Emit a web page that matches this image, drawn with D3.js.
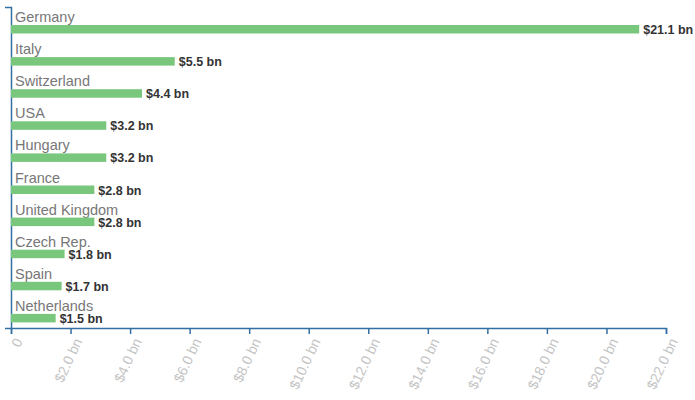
<!DOCTYPE html>
<html>
<head>
<meta charset="utf-8">
<script src="https://cdn.jsdelivr.net/npm/d3@7"></script>
<style>
  body { margin: 0; background: #fff; }
  svg { font-family: "Liberation Sans", Arial, sans-serif; }
</style>
</head>
<body>
<svg width="695" height="400"></svg>
<script>
const countries = ["Germany", "Italy", "Switzerland", "USA", "Hungary", "France",
  "United Kingdom", "Czech Rep.", "Spain", "Netherlands"];
const values = [21.1, 5.5, 4.4, 3.2, 3.2, 2.8, 2.8, 1.8, 1.7, 1.5];
const ticks = [0, 2, 4, 6, 8, 10, 12, 14, 16, 18, 20, 22];

const margin = {top: 7, right: 29, bottom: 72, left: 11};
const width = 695 - margin.left - margin.right,
    height = 400 - margin.top - margin.bottom;

const svg = d3.select("svg");
const g = svg.append("g").attr("transform", `translate(${margin.left},${margin.top})`);

let x = d3.scaleLinear().domain([0, 22]).range([0, width]);
let y = d3.scaleBand().domain(countries).range([0, height]);

const fmt = d => d === 0 ? "0" : "$" + d.toFixed(1) + " bn";

// x axis
let xAxis = g.append("g")
    .attr("transform", `translate(0,${height})`)
    .call(d3.axisBottom(x).tickValues(ticks).tickFormat(fmt).tickSizeOuter(6));
xAxis.selectAll("path, line").attr("stroke", "#336fa3").attr("stroke-width", 1.5);
xAxis.selectAll("text")
    .attr("fill", "#c4c4c4")
    .attr("font-size", 14)
    .attr("text-anchor", "end")
    .attr("dx", "-0.5em")
    .attr("dy", "0.5em")
    .attr("transform", "rotate(-65)");

// y axis line only
let yAxis = g.append("g")
    .call(d3.axisLeft(y).tickValues([]).tickSizeOuter(6));
yAxis.selectAll("path").attr("stroke", "#336fa3").attr("stroke-width", 1.5);

const rows = g.selectAll(".row")
  .data(countries)
  .join("g")
    .attr("class", "row")
    .attr("transform", d => `translate(0,${y(d)})`);

rows.append("text")
    .attr("x", 4)
    .attr("y", 15)
    .attr("fill", "#777")
    .attr("font-size", 14.5)
    .text(d => d);

rows.append("rect")
    .attr("x", 0)
    .attr("y", 18)
    .attr("height", 8.5)
    .attr("width", (d, i) => x(values[i]))
    .attr("fill", "#79c77c");

rows.append("text")
    .attr("x", (d, i) => x(values[i]) + 4)
    .attr("y", 27)
    .attr("fill", "#333")
    .attr("font-size", 12.5)
    .attr("font-weight", "bold")
    .text((d, i) => "$" + values[i].toFixed(1) + " bn");
</script>
</body>
</html>
